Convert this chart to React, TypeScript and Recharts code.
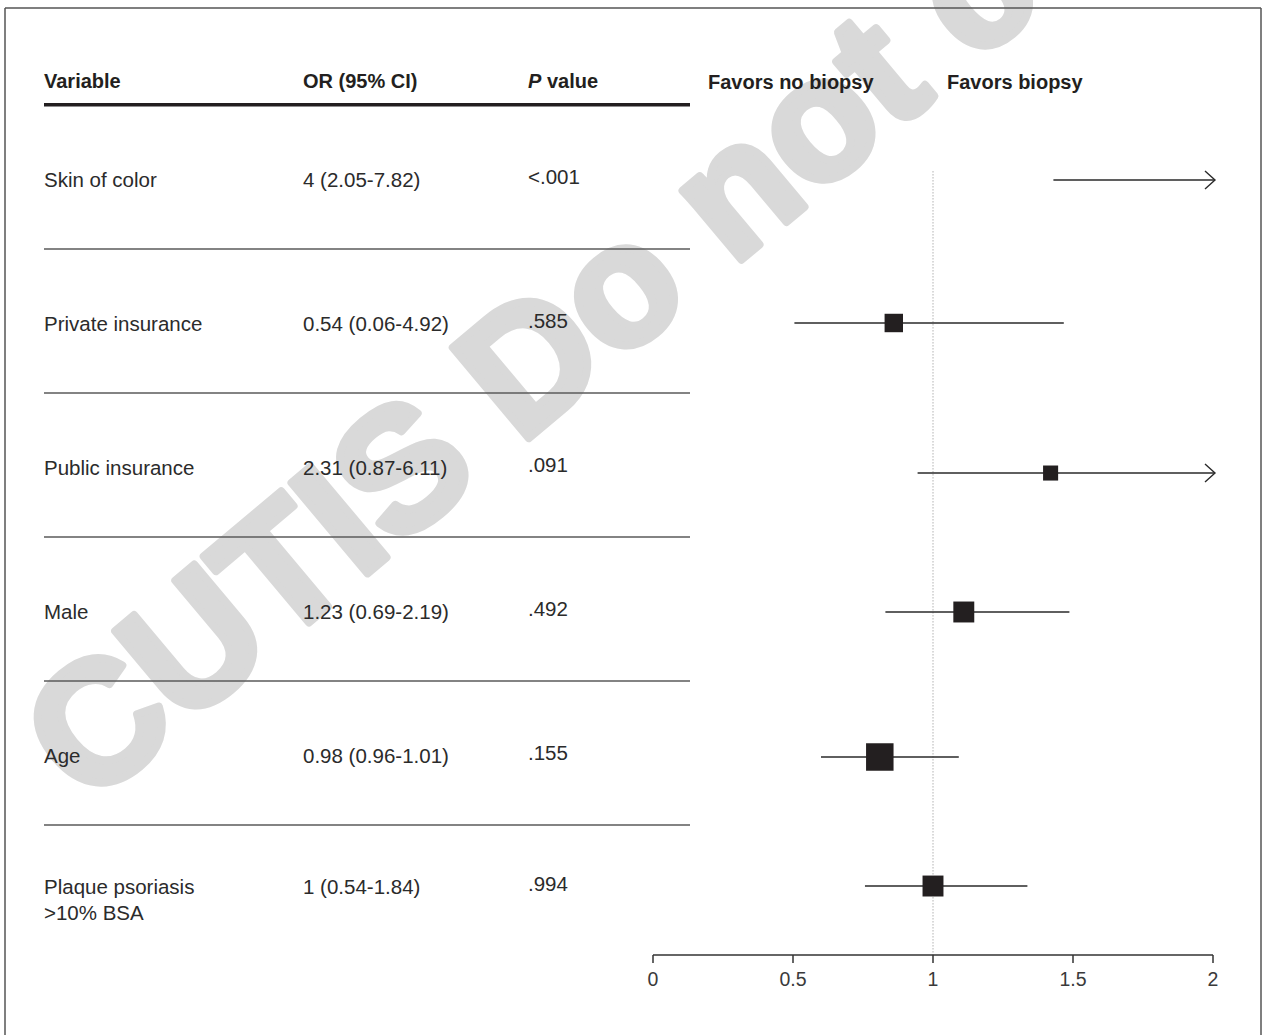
import { ScatterChart, Scatter, XAxis, YAxis, ZAxis, ReferenceLine } from 'recharts';

const VARIABLES = [
  ['Skin of color'],
  ['Private insurance'],
  ['Public insurance'],
  ['Male'],
  ['Age'],
  ['Plaque psoriasis', '>10% BSA'],
];
const OR_LABELS = ['4 (2.05-7.82)', '0.54 (0.06-4.92)', '2.31 (0.87-6.11)', '1.23 (0.69-2.19)', '0.98 (0.96-1.01)', '1 (0.54-1.84)'];
const P_LABELS = ['<.001', '.585', '.091', '.492', '.155', '.994'];

// what the plot panel actually draws
const PLOT_EST = [4, 0.86, 1.42, 1.11, 0.81, 1.0];
const PLOT_LO = [1.43, 0.505, 0.945, 0.83, 0.6, 0.757];
const PLOT_HI = [7.82, 1.46, 6.11, 1.48, 1.085, 1.33];
const WEIGHTS = [0, 0.45, 0.3, 0.58, 1, 0.58];
const ROW_POS = [0, 0.993, 2.035, 3.0, 4.007, 4.903];
const X_TICKS = [0, 0.5, 1, 1.5, 2];

const X_MAX = 2;
const Y_DOMAIN: [number, number] = [-0.5, 5.382];
const FONT = '"Liberation Sans", Arial, Helvetica, sans-serif';
const INK = '#231f20';

const points = PLOT_EST.map((v, i) => ({ x: v, y: ROW_POS[i], w: WEIGHTS[i] })).filter((p) => p.x <= X_MAX);

const renderCi = (props: any, arrow: boolean) => {
  const { x1, y1, x2, y2 } = props;
  const tip = x2 + 2;
  return (
    <g>
      <line x1={x1} y1={y1} x2={tip} y2={y2} stroke="#2a2a2a" strokeWidth={1.6} />
      {arrow && (
        <polyline
          points={`${tip - 10},${y2 - 9} ${tip},${y2} ${tip - 10},${y2 + 9}`}
          fill="none"
          stroke="#2a2a2a"
          strokeWidth={1.4}
        />
      )}
    </g>
  );
};

const Table = () => {
  const textStyle = { fontFamily: FONT, fontSize: 20.5, fill: '#2b2b2b' };
  const headStyle = { fontFamily: FONT, fontSize: 20, fontWeight: 700, fill: INK };
  return (
    <svg width={1264} height={1035} style={{ position: 'absolute', left: 0, top: 0 }}>
      {/* watermark */}
      <text
        transform="translate(88,808) rotate(-40)"
        fontFamily={FONT}
        fontWeight={700}
        fontSize={172}
        fill="#d9d9d9"
        stroke="#d9d9d9"
        strokeWidth={8}
        strokeLinejoin="round"
      >
        CUTIS Do not copy
      </text>

      {/* frame */}
      <line x1={5} y1={8} x2={1261} y2={8} stroke="#555" strokeWidth={1.5} />
      <line x1={5} y1={8} x2={5} y2={1035} stroke="#555" strokeWidth={1.5} />
      <line x1={1261} y1={8} x2={1261} y2={1035} stroke="#555" strokeWidth={1.5} />

      {/* header */}
      <text x={44} y={88} {...headStyle}>Variable</text>
      <text x={303} y={88} {...headStyle}>OR (95% CI)</text>
      <text x={528} y={88} {...headStyle}>
        <tspan fontStyle="italic">P</tspan> value
      </text>
      <text x={708} y={89} {...headStyle}>Favors no biopsy</text>
      <text x={947} y={89} {...headStyle}>Favors biopsy</text>
      <rect x={44} y={103} width={646} height={3.5} fill={INK} />

      {/* rows */}
      {VARIABLES.map((lines, i) => {
        const cy = 179 + 144 * i;
        return (
          <g key={i}>
            {lines.map((s, k) => (
              <text key={k} x={44} y={cy + 7.5 + (k - (lines.length - 1) / 2) * 26} {...textStyle}>
                {s}
              </text>
            ))}
            <text x={303} y={cy + 7.5 - ((lines.length - 1) / 2) * 26} {...textStyle}>{OR_LABELS[i]}</text>
            <text x={528} y={cy + 5 - ((lines.length - 1) / 2) * 26} {...textStyle}>{P_LABELS[i]}</text>
          </g>
        );
      })}
      {[0, 1, 2, 3, 4].map((j) => (
        <line key={j} x1={44} y1={249 + 144 * j} x2={690} y2={249 + 144 * j} stroke="#5a5a5a" strokeWidth={1.3} />
      ))}
    </svg>
  );
};

export default function App() {
  return (
    <div style={{ position: 'absolute', left: 0, top: 0, width: 1264, height: 1035, background: '#fff' }}>
      <Table />
      <div style={{ position: 'absolute', left: 0, top: 0 }}>
        <ScatterChart width={1264} height={1035} margin={{ top: 108, right: 51, bottom: 50, left: 653 }}>
          <XAxis
            type="number"
            dataKey="x"
            domain={[0, X_MAX]}
            ticks={X_TICKS}
            allowDataOverflow
            height={30}
            tickSize={8}
            tickMargin={9}
            axisLine={{ stroke: '#333', strokeWidth: 1.5 }}
            tickLine={{ stroke: '#333', strokeWidth: 1.5 }}
            tick={{ fill: '#3a3a3a', fontSize: 19.5, fontFamily: FONT }}
          />
          <YAxis type="number" dataKey="y" domain={Y_DOMAIN} reversed hide width={0} allowDataOverflow />
          <ZAxis type="number" dataKey="w" domain={[0, 1]} range={[0, 756]} />
          <ReferenceLine
            segment={[
              { x: 1, y: -0.06 },
              { x: 1, y: Y_DOMAIN[1] },
            ]}
            stroke="#8a8a8a"
            strokeDasharray="1 2"
            strokeWidth={1}
          />
          {PLOT_LO.map((lo, i) => (
            <ReferenceLine
              key={i}
              segment={[
                { x: lo, y: ROW_POS[i] },
                { x: Math.min(PLOT_HI[i], X_MAX), y: ROW_POS[i] },
              ]}
              shape={(p: any) => renderCi(p, PLOT_HI[i] > X_MAX)}
            />
          ))}
          <Scatter data={points} shape="square" fill={INK} isAnimationActive={false} />
        </ScatterChart>
      </div>
    </div>
  );
}
